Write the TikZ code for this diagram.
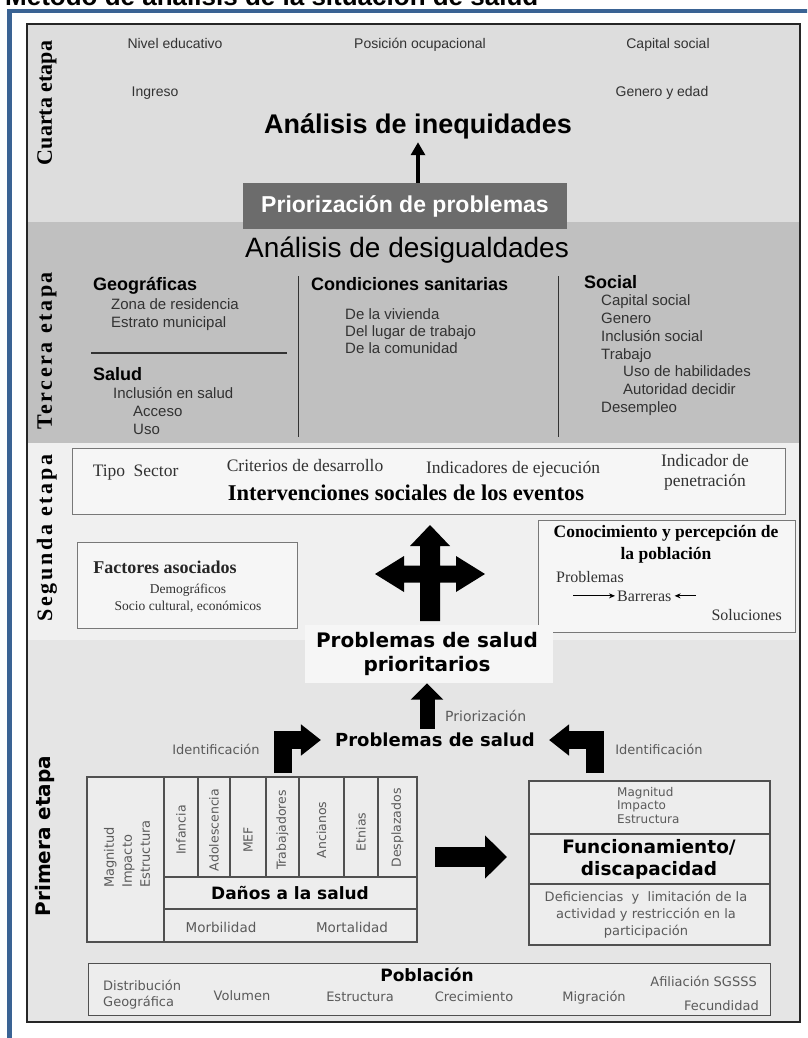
\documentclass[tikz,border=0pt]{standalone}
\usepackage{fontspec}
\setmainfont{Liberation Sans}
\newfontfamily\serf{Liberation Serif}
\newfontfamily\serfsp[LetterSpace=12]{Liberation Serif}
\newfontfamily\dvs{DejaVu Sans}
\usetikzlibrary{arrows.meta}
\definecolor{frameblue}{RGB}{58,99,148}
\definecolor{bgcuarta}{RGB}{221,221,221}
\definecolor{bgtercera}{RGB}{192,192,192}
\definecolor{bgsegunda}{RGB}{240,240,240}
\definecolor{bgprimera}{RGB}{229,229,229}
\definecolor{priobox}{RGB}{108,108,108}
\definecolor{itemgray}{RGB}{50,50,50}
\definecolor{dvgray}{RGB}{90,90,90}
\definecolor{boxline}{RGB}{120,120,120}
\definecolor{boxfill}{RGB}{246,246,246}
\definecolor{tabline}{RGB}{80,80,80}
\newcommand\fsz[1]{\fontsize{#1}{#1}\selectfont}
\newcommand\fszl[2]{\fontsize{#1}{#2}\selectfont}
\begin{document}
\begin{tikzpicture}[x=1pt,y=-1pt,
  stagelab/.style={rotate=90,font=\serf\bfseries\fsz{22}},
  stagelabsp/.style={rotate=90,font=\serfsp\bfseries\fsz{22}},
  itemA/.style={font=\fsz{14},text=itemgray,inner sep=0pt,anchor=base},
  itemT/.style={font=\fsz{15},text=itemgray,anchor=base west,inner sep=0pt},
  headT/.style={font=\bfseries\fsz{18},anchor=base west,inner sep=0pt},
  itemS/.style={font=\serf\fsz{17.5},text=itemgray,inner sep=0pt,anchor=base},
  itemD/.style={font=\dvs\fsz{13},text=dvgray,inner sep=0pt},
  colD/.style={font=\dvs\fsz{12.5},text=dvgray,rotate=90,inner sep=0pt},
  sbox/.style={draw=boxline,fill=boxfill,line width=0.8pt},
  tab/.style={draw=tabline,line width=1.1pt},
  bigarrow/.style={line width=#1,-{Triangle[width=2.1*#1,length=1.1*#1]}},
  bentarrow/.style={line width=18pt,-{Triangle[width=30pt,length=20pt]},miter limit=10},
  smallarrow/.style={line width=0.8pt,-{Stealth[length=6pt,width=5pt]}}
]
\useasboundingbox (0,0) rectangle (807,1038);
\clip (0,0) rectangle (807,1038);
% title (cut at the top, as in the reference)
\node[anchor=base west,font=\bfseries\fsz{26},inner sep=0pt] (title) at (5,6) {Método de análisis de la situación de salud};
% frames and stage backgrounds
\fill[bgcuarta] (27,24) rectangle (800,222);
\fill[bgtercera] (27,222) rectangle (800,443);
\fill[bgsegunda] (27,443) rectangle (800,640);
\fill[bgprimera] (27,640) rectangle (800,1022);
\draw[line width=1.6pt,black!85] (27,24) rectangle (800,1022);
\draw[frameblue,line width=4.5pt] (9.5,1040) -- (9.5,11) -- (810,11);

% stage labels
\node[stagelab] (l4) at (47,103) {Cuarta etapa};
\node[stagelabsp] (l3) at (47,351) {Tercera etapa};
\node[stagelabsp] (l2) at (47,538) {Segunda etapa};
\node[rotate=90,font=\dvs\bfseries\fsz{20}] (l1) at (45,836) {Primera etapa};

% ---- cuarta etapa
\node[itemA] (nivel) at (175,49) {Nivel educativo};
\node[itemA] (posic) at (420,49) {Posición ocupacional};
\node[itemA] (capit) at (668,49) {Capital social};
\node[itemA] (ingr) at (155,97) {Ingreso};
\node[itemA] (gene) at (662,97) {Genero y edad};
\node[font=\bfseries\fsz{27}] (ineq) at (418,126) {Análisis de inequidades};
\node[fill=priobox,minimum width=324pt,minimum height=46pt,text=white,font=\bfseries\fsz{23}] (prior) at (405,206) {Priorización de problemas};
\draw[line width=4.5pt,-{Triangle[width=14pt,length=13pt]}] (ineq.south |- prior.north) -- (ineq.south);

% ---- tercera etapa
\node[font=\fsz{28}] (desig) at (407,250) {Análisis de desigualdades};
\draw[line width=1pt,black!80] (298,276) -- (298,437);
\draw[line width=1pt,black!80] (558,276) -- (558,437);
\draw[line width=1.2pt,black!80] (91,353) -- (287,353);
\node[headT] (geo) at (93,290) {Geográficas};
\node[itemT] (zona) at (111,309) {Zona de residencia};
\node[itemT] (estr) at (111,327) {Estrato municipal};
\node[headT] (sal) at (93,380) {Salud};
\node[itemT] (incs) at (113,398) {Inclusión en salud};
\node[itemT] (acc) at (133,416) {Acceso};
\node[itemT] (uso) at (133,434) {Uso};
\node[headT] (cond) at (311,290) {Condiciones sanitarias};
\node[itemT] (viv) at (345,319) {De la vivienda};
\node[itemT] (lug) at (345,336) {Del lugar de trabajo};
\node[itemT] (com) at (345,353) {De la comunidad};
\node[headT] (soc) at (584,288) {Social};
\node[itemT] (caps) at (601,305.5) {Capital social};
\node[itemT] (gen) at (601,323.5) {Genero};
\node[itemT] (incl) at (601,341.5) {Inclusión social};
\node[itemT] (trab) at (601,359.5) {Trabajo};
\node[itemT] (hab) at (623,376.5) {Uso de habilidades};
\node[itemT] (aut) at (623,394.5) {Autoridad decidir};
\node[itemT] (des) at (601,412.5) {Desempleo};

% ---- segunda etapa
\node[sbox,minimum width=713pt,minimum height=66pt] (interbox) at (429,481) {};
\node[itemS] (tipo) at (109,476) {Tipo};
\node[itemS] (sect) at (156,476) {Sector};
\node[itemS] (crit) at (305,471) {Criterios de desarrollo};
\node[itemS] (indej) at (513,473) {Indicadores de ejecución};
\node[itemS,anchor=center,align=center,font=\serf\fszl{17.5}{20}] (indpen) at (705,472) {Indicador de\\penetración};
\node[font=\serf\bfseries\fsz{22.5},inner sep=0pt] (inter) at (406,493) {Intervenciones sociales de los eventos};

\node[sbox,minimum width=220pt,minimum height=86pt] (factbox) at (187,585) {};
\node[font=\serf\bfseries\fsz{18},text=black!85,inner sep=0pt] (fact) at (165,567) {Factores asociados};
\node[font=\serf\fsz{13.5},text=itemgray,inner sep=0pt] (demo) at (188,590) {Demográficos};
\node[font=\serf\fsz{13.5},text=itemgray,inner sep=0pt] (socio) at (188,607) {Socio cultural, económicos};

\node[sbox,minimum width=257pt,minimum height=112pt] (conbox) at (666.5,576) {};
\node[font=\serf\bfseries\fszl{17.5}{22},align=center,inner sep=0pt] (conoc) at (666,544) {Conocimiento y percepción de\\la población};
\node[font=\serf\fsz{16},text=itemgray,anchor=base west,inner sep=0pt] (probl) at (556,582) {Problemas};
\node[font=\serf\fsz{16},text=itemgray,anchor=base west,inner sep=0pt] (barr) at (617,601) {Barreras};
\node[font=\serf\fsz{16},text=itemgray,anchor=base east,inner sep=0pt] (soluc) at (782,620) {Soluciones};
\draw[smallarrow] ([xshift=-44pt]barr.west) -- ([xshift=-2pt]barr.west);
\draw[smallarrow] ([xshift=24pt]barr.east) -- ([xshift=3pt]barr.east);

% cross arrow
\fill[black] (430,525) -- (450,546) -- (440,546) -- (440,565.5) -- (456,565.5) -- (456,556) -- (485,574)
  -- (456,592) -- (456,582.5) -- (440,582.5) -- (440,621) -- (420,621) -- (420,582.5) -- (404,582.5)
  -- (404,592) -- (375,574) -- (404,556) -- (404,565.5) -- (420,565.5) -- (420,546) -- (410,546) -- cycle;

% ---- primera etapa
\node[fill=boxfill,minimum width=248pt,minimum height=58pt] (ppbox) at (429,654) {};
\node[font=\dvs\bfseries\fszl{20}{24},align=center,inner sep=0pt] (pp) at (427,654) {Problemas de salud\\prioritarios};
\node[font=\dvs\bfseries\fsz{18},inner sep=2pt] (ps) at (435,740) {Problemas de salud};
\node[itemD,font=\dvs\fsz{14},anchor=west] (prz) at (445,716) {Priorización};
\draw[bigarrow=15pt,shorten <=2pt] (ps.north -| pp.south) -- (ppbox.south -| pp.south);
\node[itemD] (idl) at (216,749) {Identificación};
\node[itemD] (idr) at (659,749) {Identificación};

% Daños a la salud table
\coordinate (dtl) at (87,777);
\coordinate (dbr) at (417,942);
\fill[bgprimera!70!white] (dtl) rectangle (dbr);
\draw[tab] (dtl) rectangle (dbr);
\draw[tab] (164,777) -- (164,942);
\draw[tab] (164,877) -- (417,877);
\draw[tab] (164,909) -- (417,909);
\foreach \xx in {198,230,266,299,344,378} \draw[tab] (\xx,777) -- (\xx,877);
\node[colD] (c1) at (181,830) {Infancia};
\node[colD] (c2) at (214,830) {Adolescencia};
\node[colD] (c3) at (248,840) {MEF};
\node[colD] (c4) at (282.5,830) {Trabajadores};
\node[colD] (c5) at (321.5,830) {Ancianos};
\node[colD] (c6) at (361,832) {Etnias};
\node[colD] (c7) at (397.5,828) {Desplazados};
\node[font=\dvs\fszl{13}{18},text=dvgray,rotate=90,align=left,anchor=west,inner sep=0pt] (mag1) at (127,888) {Magnitud\\Impacto\\Estructura};
\node[font=\dvs\bfseries\fsz{17}] (danos) at (290,893) {Daños a la salud};
\node[font=\dvs\fsz{13.5},text=dvgray,inner sep=0pt,anchor=base] (morb) at (221,932) {Morbilidad};
\node[font=\dvs\fsz{13.5},text=dvgray,inner sep=0pt,anchor=base] (mort) at (352,932) {Mortalidad};
\coordinate (dtop) at (283,777);
\coordinate (dright) at (417,857);
\coordinate (ftop) at (594.5,781);

% Funcionamiento box
\fill[bgprimera!70!white] (529,781) rectangle (770,945);
\draw[tab] (529,781) rectangle (770,945);
\draw[tab] (529,834) -- (770,834);
\draw[tab] (529,884) -- (770,884);
\node[font=\dvs\fszl{12}{13.5},text=dvgray,align=left,anchor=north west,inner sep=0pt] (mag2) at (617,787) {Magnitud\\Impacto\\Estructura};
\node[font=\dvs\bfseries\fszl{18.5}{22},align=center,inner sep=0pt] (func) at (649,859) {Funcionamiento/\\discapacidad};
\node[font=\dvs\fszl{13}{17},text=dvgray,align=center,inner sep=0pt] (defi) at (646,915) {Deficiencias~~y~~limitación de la\\actividad y restricción en la\\participación};
\coordinate (fleft) at (529,857);

% arrows of primera etapa
\draw[bigarrow=20pt,shorten <=18pt,shorten >=22pt] (dright) -- (fleft);
\draw[bentarrow,shorten <=4pt,shorten >=12pt] (dtop) |- (ps.west);
\draw[bentarrow,shorten <=8pt,shorten >=12pt] (ftop) |- (ps.east);

% Población box
\fill[bgprimera!70!white] (88,963) rectangle (770,1015);
\draw[tab,line width=1pt] (88,963) rectangle (770,1015);
\node[font=\dvs\bfseries\fsz{17}] (pobl) at (427,975) {Población};
\node[font=\dvs\fszl{13}{16},text=dvgray,align=left,anchor=west,inner sep=0pt] (dist) at (103,995) {Distribución\\Geográfica};
\node[itemD,anchor=base] (vol) at (242,1000) {Volumen};
\node[itemD,anchor=base] (est) at (360,1001) {Estructura};
\node[itemD,anchor=base] (crec) at (474,1001) {Crecimiento};
\node[itemD,anchor=base] (migr) at (594,1001) {Migración};
\node[itemD,anchor=base east] (afil) at (757,986) {Afiliación SGSSS};
\node[itemD,anchor=base east] (fec) at (759,1010) {Fecundidad};
\end{tikzpicture}
\end{document}
